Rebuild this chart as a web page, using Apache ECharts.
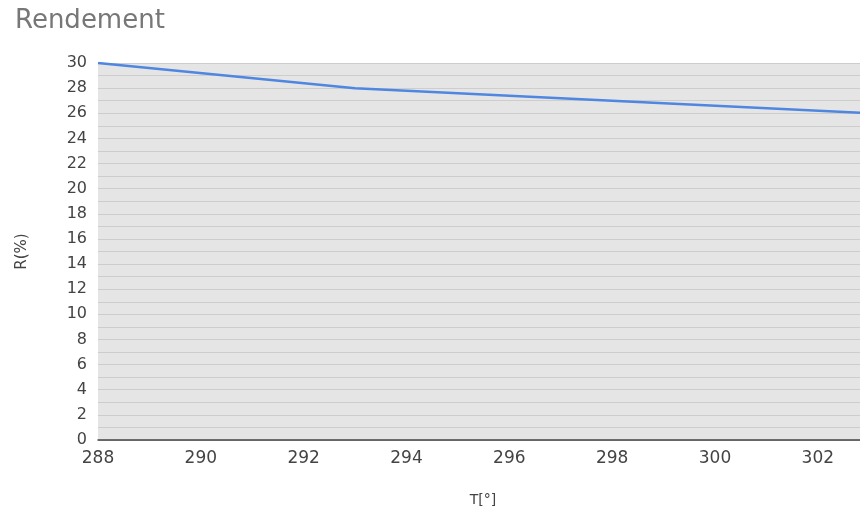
<!DOCTYPE html>
<html>
<head>
<meta charset="utf-8">
<script src="https://cdn.jsdelivr.net/npm/echarts@6/dist/echarts.min.js"></script>
<style>html,body{margin:0;padding:0;background:#fff}#c{width:860px;height:517px}</style>
</head>
<body>
<div id="c"></div>
<script>
var temperatures = [288, 293, 298, 303];
var rendement = [30, 28, 27, 26];
var FONT = 'DejaVu Sans';
var chart = echarts.init(document.getElementById('c'));
chart.setOption({
  animation: false,
  title: {text: 'Rendement', left: 10, top: 3, textStyle: {fontFamily: FONT, fontSize: 26, fontWeight: 'normal', color: '#777777'}},
  grid: {left: 98, top: 63, bottom: 77, right: 0, outerBoundsMode: 'none', show: true, backgroundColor: '#e5e5e5', borderWidth: 0},
  xAxis: {
    type: 'value', min: 288, max: 302.82, interval: 2,
    name: 'T[°]', nameLocation: 'middle', nameGap: 53,
    nameTextStyle: {fontFamily: FONT, fontSize: 14, color: '#444', padding: [0, 0, 0, 8]},
    axisLine: {show: true, onZero: false, lineStyle: {color: '#444', width: 1.5}},
    axisTick: {show: false},
    splitLine: {show: false},
    axisLabel: {showMaxLabel: false, margin: 10, fontFamily: FONT, fontSize: 17, color: '#444'}
  },
  yAxis: {
    type: 'value', min: 0, max: 30, interval: 1,
    name: 'R(%)', nameLocation: 'middle', nameGap: 68, nameRotate: 90,
    nameTextStyle: {fontFamily: FONT, fontSize: 15, color: '#444'},
    axisLine: {show: false}, axisTick: {show: false},
    splitLine: {show: true, lineStyle: {color: '#cdcdcd', width: 1}},
    axisLabel: {margin: 11, fontFamily: FONT, fontSize: 16, color: '#444',
      formatter: function (v) { return v % 2 === 0 ? String(v) : ''; }}
  },
  series: [{
    type: 'line', data: temperatures.map(function (t, i) { return [t, rendement[i]]; }),
    showSymbol: false, clip: true, lineStyle: {color: '#4f86e0', width: 2.5}, itemStyle: {color: '#4f86e0'}
  }]
});
</script>
</body>
</html>
